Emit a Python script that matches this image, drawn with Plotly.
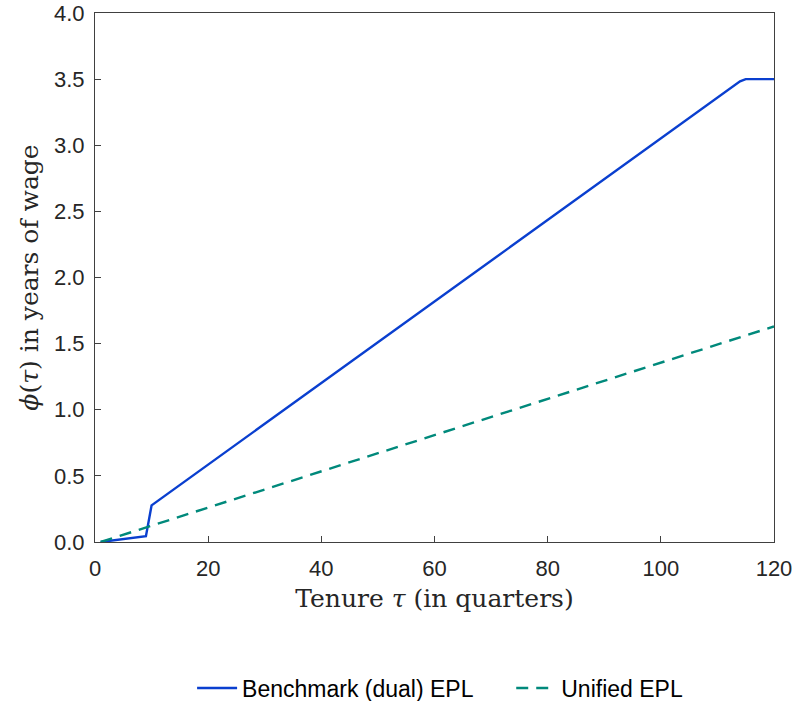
import plotly.graph_objects as go

# Data
bench_tenure = [1, 9, 10, 114, 115, 120]
bench_phi = [0.0, 0.044, 0.277, 3.483, 3.5, 3.5]
unified_tenure = [1, 120]
unified_phi = [0.0, 1.63]

blue = "#0a3fcf"
teal = "#00897b"
axis_col = "#404040"

fig = go.Figure()
fig.add_trace(go.Scatter(x=bench_tenure, y=bench_phi, mode="lines",
                         name="Benchmark (dual) EPL", legend="legend",
                         line=dict(color=blue, width=2.4)))
fig.add_trace(go.Scatter(x=unified_tenure, y=unified_phi, mode="lines",
                         name="Unified EPL", legend="legend2",
                         line=dict(color=teal, width=2.4, dash="12px,8px")))

serif = "DejaVu Serif"
leg_font = dict(family="Liberation Sans", size=23, color="#000000")
fig.update_layout(
    width=796, height=727,
    margin=dict(l=95, r=22, t=13, b=185),
    plot_bgcolor="white", paper_bgcolor="white",
    font=dict(family="Liberation Sans", size=22, color="#262626"),
    showlegend=True,
    legend=dict(orientation="h", x=0.143, xanchor="left", y=-0.276, yanchor="middle",
                font=leg_font, itemwidth=40, bgcolor="rgba(0,0,0,0)"),
    legend2=dict(orientation="h", x=0.613, xanchor="left", y=-0.276, yanchor="middle",
                 font=leg_font, itemwidth=40, bgcolor="rgba(0,0,0,0)"),
    xaxis=dict(range=[0, 120], dtick=20, tick0=0, showgrid=False, zeroline=False,
               showline=True, mirror=True, linecolor=axis_col, linewidth=1,
               ticks="inside", ticklen=6, tickcolor=axis_col, ticklabelstandoff=7,
               automargin=False, ticklabeloverflow="allow",
               title=dict(text="Tenure <i>τ</i> (in quarters)",
                          font=dict(family=serif, size=25, color="#262626"), standoff=9)),
    yaxis=dict(range=[0, 4], dtick=0.5, tick0=0, tickformat=".1f", showgrid=False, zeroline=False,
               showline=True, mirror=True, linecolor=axis_col, linewidth=1,
               ticks="inside", ticklen=6, tickcolor=axis_col, ticklabelstandoff=5,
               automargin=False, ticklabeloverflow="allow",
               title=dict(text="<i>ϕ</i>(<i>τ</i>) in years of wage",
                          font=dict(family=serif, size=25, color="#262626"), standoff=8)),
)

fig.write_html("out.html", config={"displayModeBar": False},
               post_script="document.body.style.margin='0px';")
